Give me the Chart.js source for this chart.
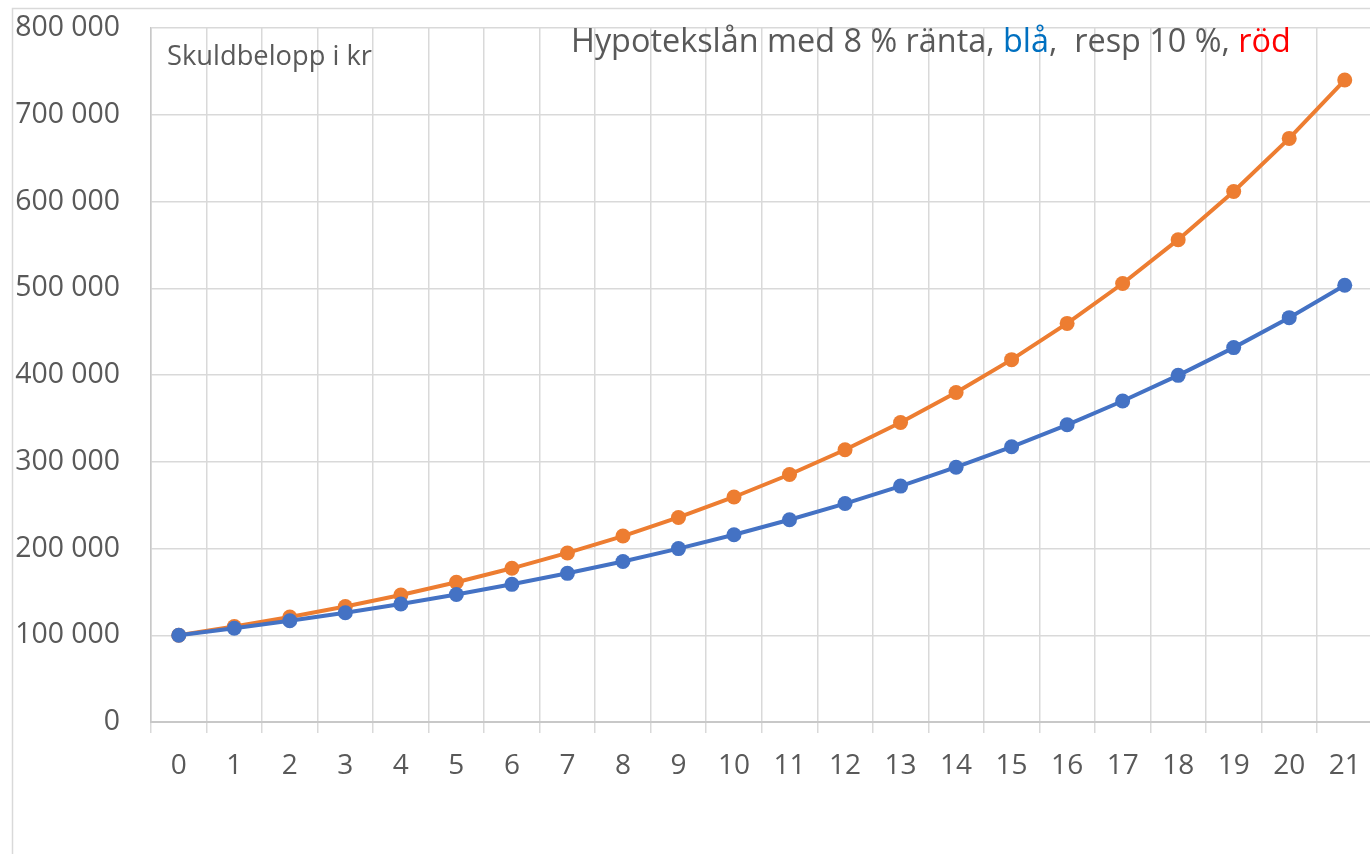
<!DOCTYPE html>
<html>
<head>
<meta charset="utf-8">
<title>Hypotekslån</title>
<script src="https://cdn.jsdelivr.net/npm/chart.js@4.4.1/dist/chart.umd.min.js"></script>
<style>
  html, body { margin: 0; padding: 0; background: #fff; overflow: hidden; }
  #wrap { width: 1380px; height: 854px; }
</style>
</head>
<body>
<div id="wrap"><canvas id="loanChart" width="1380" height="854"></canvas></div>
<script>
// years 0..21
var years = ['0', '1', '2', '3', '4', '5', '6', '7', '8', '9', '10', '11', '12', '13', '14', '15', '16', '17', '18', '19', '20', '21'];
// 8 % ränta (blå)
var loan8 = [100000, 108000, 116640, 125970, 136050, 146930, 158690, 171380, 185090, 199900, 215890,
  233160, 251820, 271960, 293720, 317220, 342590, 370000, 399600, 431570, 466100, 503380];
// 10 % ränta (röd/orange)
var loan10 = [100000, 110000, 121000, 133100, 146410, 161050, 177160, 194870, 214360, 235790, 259370,
  285310, 313840, 345230, 379750, 417720, 459500, 505450, 555990, 611590, 672750, 740030];
var yMin = 0, yMax = 800000, yStep = 100000;
var yLabel = 'Skuldbelopp i kr';
var titleParts = [
  { text: 'Hypotekslån med 8 % ränta, ', color: '#595959' },
  { text: 'blå', color: '#0070c0' },
  { text: ',  resp 10 %, ', color: '#595959' },
  { text: 'röd', color: '#ff0000' }
];

var FONT = "'Open Sans', 'Noto Sans', sans-serif";
var GRID = '#d9d9d9';
var TEXT = '#595959';

function fmt(v) {
  return String(v).replace(/\B(?=(\d{3})+(?!\d))/g, ' ');
}

var textPlugin = {
  id: 'texts',
  beforeDraw: function (chart) {
    var c = chart.ctx;
    c.save();
    c.strokeStyle = GRID;
    c.lineWidth = 1.5;
    c.beginPath();
    c.moveTo(12.5, 854);
    c.lineTo(12.5, 8.5);
    c.lineTo(1380, 8.5);
    c.stroke();
    c.restore();
  },
  afterDraw: function (chart) {
    var c = chart.ctx;
    c.save();
    c.textBaseline = 'alphabetic';
    c.textAlign = 'left';
    c.font = '27.3px ' + FONT;
    c.fillStyle = TEXT;
    c.fillText(yLabel, 167, 65);
    c.font = '32.4px ' + FONT;
    var x = 571;
    titleParts.forEach(function (p) {
      c.fillStyle = p.color;
      c.fillText(p.text, x, 52);
      x += c.measureText(p.text).width;
    });
    c.restore();
  }
};

var ctx = document.getElementById('loanChart').getContext('2d');
var loanChart = new Chart(ctx, {
  type: 'line',
  data: {
    labels: years,
    datasets: [{
      label: '8 %',
      data: loan8,
      borderColor: '#4472c4',
      backgroundColor: '#4472c4',
      borderWidth: 4,
      pointRadius: 7.5,
      pointHoverRadius: 7.5,
      pointBorderWidth: 0,
      tension: 0
    }, {
      label: '10 %',
      data: loan10,
      borderColor: '#ed7d31',
      backgroundColor: '#ed7d31',
      borderWidth: 4,
      pointRadius: 7.5,
      pointHoverRadius: 7.5,
      pointBorderWidth: 0,
      tension: 0
    }]
  },
  options: {
    responsive: false,
    animation: false,
    layout: { padding: { top: 28, right: 7, left: 0, bottom: 0 } },
    plugins: {
      legend: { display: false },
      tooltip: { enabled: false },
      title: { display: false }
    },
    scales: {
      x: {
        offset: true,
        grid: { offset: true, color: GRID, lineWidth: 1.5, tickLength: 11, tickColor: GRID },
        border: { color: '#c8c8c8', width: 2 },
        ticks: { color: TEXT, font: { family: FONT, size: 28 }, padding: 16, maxRotation: 0, autoSkip: false },
        afterFit: function (scale) { scale.height = 132; scale.paddingLeft = 0; scale.paddingRight = 0; }
      },
      y: {
        min: yMin,
        max: yMax,
        grid: { color: GRID, lineWidth: 1.5, drawTicks: false },
        border: { color: '#c8c8c8', width: 1.5 },
        ticks: {
          stepSize: yStep,
          color: TEXT,
          padding: 31,
          font: { family: FONT, size: 28.4 },
          callback: function (v) { return fmt(v); }
        },
        afterFit: function (scale) { scale.width = 151; scale.paddingTop = 0; scale.paddingBottom = 0; }
      }
    }
  },
  plugins: [textPlugin]
});
</script>
</body>
</html>
